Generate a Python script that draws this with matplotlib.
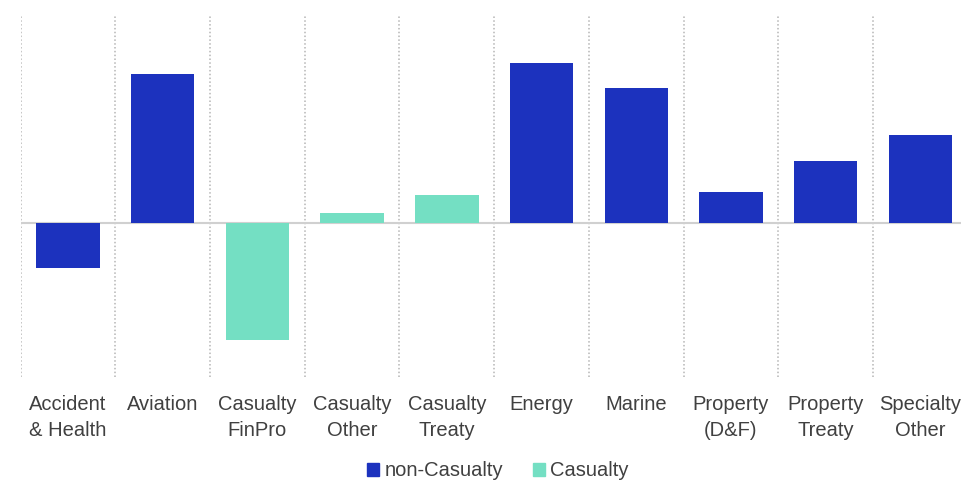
import matplotlib
matplotlib.use("Agg")
import matplotlib.pyplot as plt
from matplotlib.patches import Patch

categories = ["Accident\n& Health", "Aviation", "Casualty\nFinPro", "Casualty\nOther", "Casualty\nTreaty",
              "Energy", "Marine", "Property\n(D&F)", "Property\nTreaty", "Specialty\nOther"]
values = [-45, 149, -117, 10, 28, 160, 135, 31, 62, 88]
is_casualty = [False, False, True, True, True, False, False, False, False, False]
series_names = ["non-Casualty", "Casualty"]

BLUE = "#1C32BE"
TEAL = "#74DFC3"

plt.rcParams['font.family'] = ['Liberation Sans', 'DejaVu Sans']

fig = plt.figure(figsize=(9.62, 4.83), dpi=100)
ax = fig.add_axes([20.7/962, 1-377/483, 947/962, (377-15)/483])

x = list(range(len(categories)))
colors = [TEAL if c else BLUE for c in is_casualty]
ax.bar(x, values, width=0.67, color=colors, zorder=3)

ax.set_xlim(-0.5, len(categories)-0.5)
ax.set_ylim(-154, 208)
for b in range(len(categories)+1):
    ax.axvline(b-0.5, color="#B5B5B5", linestyle=(0, (1, 1.5)), linewidth=1.1, zorder=1)
ax.axhline(0, color="#D0D0D0", linewidth=1.5, zorder=2)

ax.set_xticks(x)
ax.set_xticklabels(categories, fontsize=14.5, color="#404040", linespacing=1.45)
ax.tick_params(axis='x', length=0, pad=13)
ax.set_yticks([])
for s in ax.spines.values():
    s.set_visible(False)

handles = [Patch(color=BLUE), Patch(color=TEAL)]
fig.legend(handles, series_names, loc="center", bbox_to_anchor=(498/962, 1-471/483), ncol=2,
           frameon=False, fontsize=14.5, handlelength=0.6, handleheight=0.6, handletextpad=0.25,
           columnspacing=1.5, labelcolor="#404040")

fig.savefig("out.png", dpi=100)
